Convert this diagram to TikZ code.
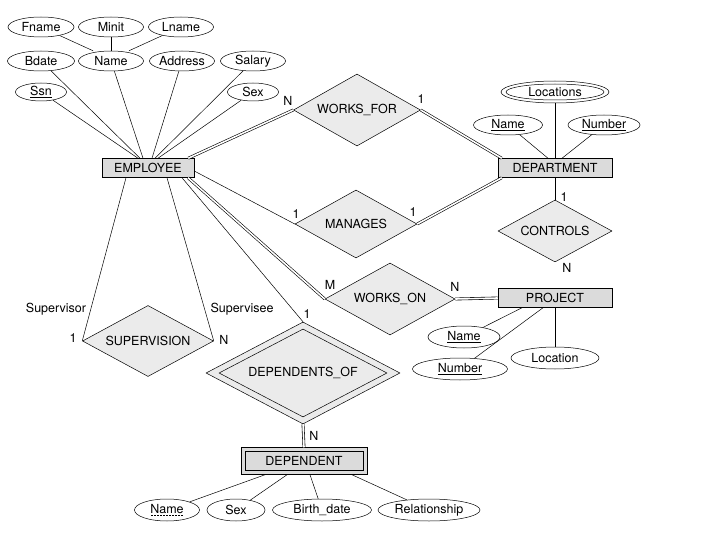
\documentclass[tikz,border=0pt]{standalone}
\usepackage{fontspec}
\setmainfont{TeX Gyre Heros}
\usetikzlibrary{shapes.geometric}
\newcommand{\dashul}[1]{\leavevmode\setbox0\hbox{#1}\rlap{\hbox to \wd0{\leaders\hbox to 3pt{\hss\vrule height -1.6pt depth 2.1pt width 1.5pt\hss}\hfil}}\box0}
\tikzset{
	every node/.style={font=\fontsize{12.5}{14}\selectfont},
	attr/.style={ellipse, draw, inner sep=0pt, minimum height=20pt},
	entity/.style={rectangle, draw, fill=black!14, inner sep=0pt, minimum height=19pt},
	rel/.style={diamond, aspect=1.8, draw, fill=black!8, inner sep=0pt},
	dbl/.style={double, line width=0.6pt, double distance=1.6pt},
	card/.style={inner sep=0pt}
}

\begin{document}
\begin{tikzpicture}[x=1pt, y=-1pt, line width=0.5pt]
\useasboundingbox (0,0) rectangle (720,540);

% EMPLOYEE and its attributes
\node[entity, minimum width=92pt] (emp) at (148,168) {EMPLOYEE};
\node[attr, minimum width=66pt] (fname) at (41,27) {Fname};
\node[attr, minimum width=65pt] (minit) at (111,27) {Minit};
\node[attr, minimum width=65pt] (lname) at (181,27) {Lname};
\node[attr, minimum width=67pt] (bdate) at (41,61) {Bdate};
\node[attr, minimum width=65pt] (ename) at (111,61) {Name};
\node[attr, minimum width=65pt] (addr) at (182,61) {Address};
\node[attr, minimum width=65pt] (salary) at (253,61) {Salary};
\node[attr, minimum width=51pt, minimum height=18pt] (ssn) at (41,92) {\underline{Ssn}};
\node[attr, minimum width=51pt, minimum height=18pt] (esex) at (253,92) {Sex};

\draw (fname) -- ([xshift=-18pt]ename.north);
\draw (minit) -- (ename);
\draw (lname) -- ([xshift=18pt]ename.north);
\draw (ssn) -- ([xshift=-10pt]emp.north);
\draw (bdate) -- ([xshift=-8pt]emp.north);
\draw (ename) -- ([xshift=-5pt]emp.north);
\draw (addr) -- ([xshift=4pt]emp.north);
\draw (salary) -- ([xshift=7pt]emp.north);
\draw (esex) -- ([xshift=10pt]emp.north);

% DEPARTMENT
\node[entity, minimum width=114pt] (dept) at (555,168) {DEPARTMENT};
\node[attr, minimum width=108pt, minimum height=22pt] (loc) at (555,92) {Locations};
\node[ellipse, draw, inner sep=0pt, minimum width=98pt, minimum height=16pt] (locin) at (loc.center) {};
\node[attr, minimum width=69pt] (dname) at (508,125) {\underline{Name}};
\node[attr, minimum width=72pt] (dnum) at (604,125) {\underline{Number}};
\draw (loc) -- (dept.north);
\draw (dname) -- ([xshift=-7pt]dept.north);
\draw (dnum) -- ([xshift=7pt]dept.north);

% PROJECT
\node[entity, minimum width=114pt] (proj) at (555,298) {PROJECT};
\node[attr, minimum width=72pt, minimum height=22pt] (pname) at (464,337) {\underline{Name}};
\node[attr, minimum width=95pt, minimum height=22pt] (pnum) at (460,369) {\underline{Number}};
\node[attr, minimum width=88pt, minimum height=22pt] (ploc) at (555,358) {Location};
\draw (pname) -- ([xshift=-33pt]proj.south);
\draw (pnum) -- ([xshift=-12pt]proj.south);
\draw (ploc) -- (proj.south);

% DEPENDENT
\node[entity, minimum width=126pt, minimum height=27pt] (dep) at (304,461) {DEPENDENT};
\node[draw, rectangle, inner sep=0pt, minimum width=118pt, minimum height=19pt] (depin) at (dep.center) {};
\node[attr, minimum width=65pt, minimum height=22pt] (depname) at (167,510) {\dashul{Name}};
\node[attr, minimum width=58pt, minimum height=22pt] (depsex) at (236,510) {Sex};
\node[attr, minimum width=99pt, minimum height=22pt] (bdt) at (322,510) {Birth\_date};
\node[attr, minimum width=102pt, minimum height=22pt] (relat) at (429,510) {Relationship};
\draw (depname) -- ([xshift=-39pt]dep.south);
\draw (depsex) -- ([xshift=-17pt]dep.south);
\draw (bdt) -- ([xshift=6pt]dep.south);
\draw (relat) -- ([xshift=48pt]dep.south);

% relationships
\node[rel, minimum width=127pt, minimum height=72pt] (wf) at (357,110) {WORKS\_FOR};
\node[rel, minimum width=122pt, minimum height=68pt] (man) at (356,224) {MANAGES};
\node[rel, minimum width=114pt, minimum height=62pt] (ctl) at (555,231) {CONTROLS};
\node[rel, minimum width=130pt, minimum height=72pt] (won) at (390,299) {WORKS\_ON};
\node[rel, minimum width=131pt, minimum height=71pt] (sup) at (148,341) {SUPERVISION};
\node[rel, minimum width=194pt, minimum height=102pt] (dof) at (303,373) {};
\node[diamond, aspect=1.9, draw, inner sep=0pt, minimum width=168pt, minimum height=88pt] (dofin) at (dof.center) {DEPENDENTS\_OF};

\draw[dbl] ([xshift=-6pt]emp.north east) -- (wf.west);
\draw[dbl] (wf.east) -- ([xshift=4pt]dept.north west);
\draw ([yshift=-3pt]emp.east) -- (man.west);
\draw[dbl] (man.east) -- ([xshift=4pt]dept.south west);
\draw (dept.south) -- (ctl.north);
\draw[dbl] (ctl.south) -- (proj.north);
\draw[dbl] ([xshift=40pt]emp.south) -- (won.west);
\draw[dbl] (won.east) -- (proj.west);
\draw ([xshift=-22pt]emp.south) -- (sup.west);
\draw ([xshift=19pt]emp.south) -- (sup.east);
\draw ([xshift=34pt]emp.south) -- (dof.north);
\draw[dbl] (dof.south) -- (dep.north);

% cardinalities and roles
\node[card] (cwf1) at (288,101) {N};
\node[card] (cwf2) at (421,99) {1};
\node[card] (cman1) at (296,214) {1};
\node[card] (cman2) at (413,212) {1};
\node[card] (cctl1) at (564,197) {1};
\node[card] (cctl2) at (567,268) {N};
\node[card] (cwon1) at (330,285) {M};
\node[card] (cwon2) at (455,287) {N};
\node[card] (rsup1) at (56,309) {Supervisor};
\node[card] (csup1) at (73,338) {1};
\node[card] (rsup2) at (242,309) {Supervisee};
\node[card] (csup2) at (224,340) {N};
\node[card] (cdof1) at (307,314) {1};
\node[card] (cdof2) at (314,436) {N};

\end{tikzpicture}
\end{document}
